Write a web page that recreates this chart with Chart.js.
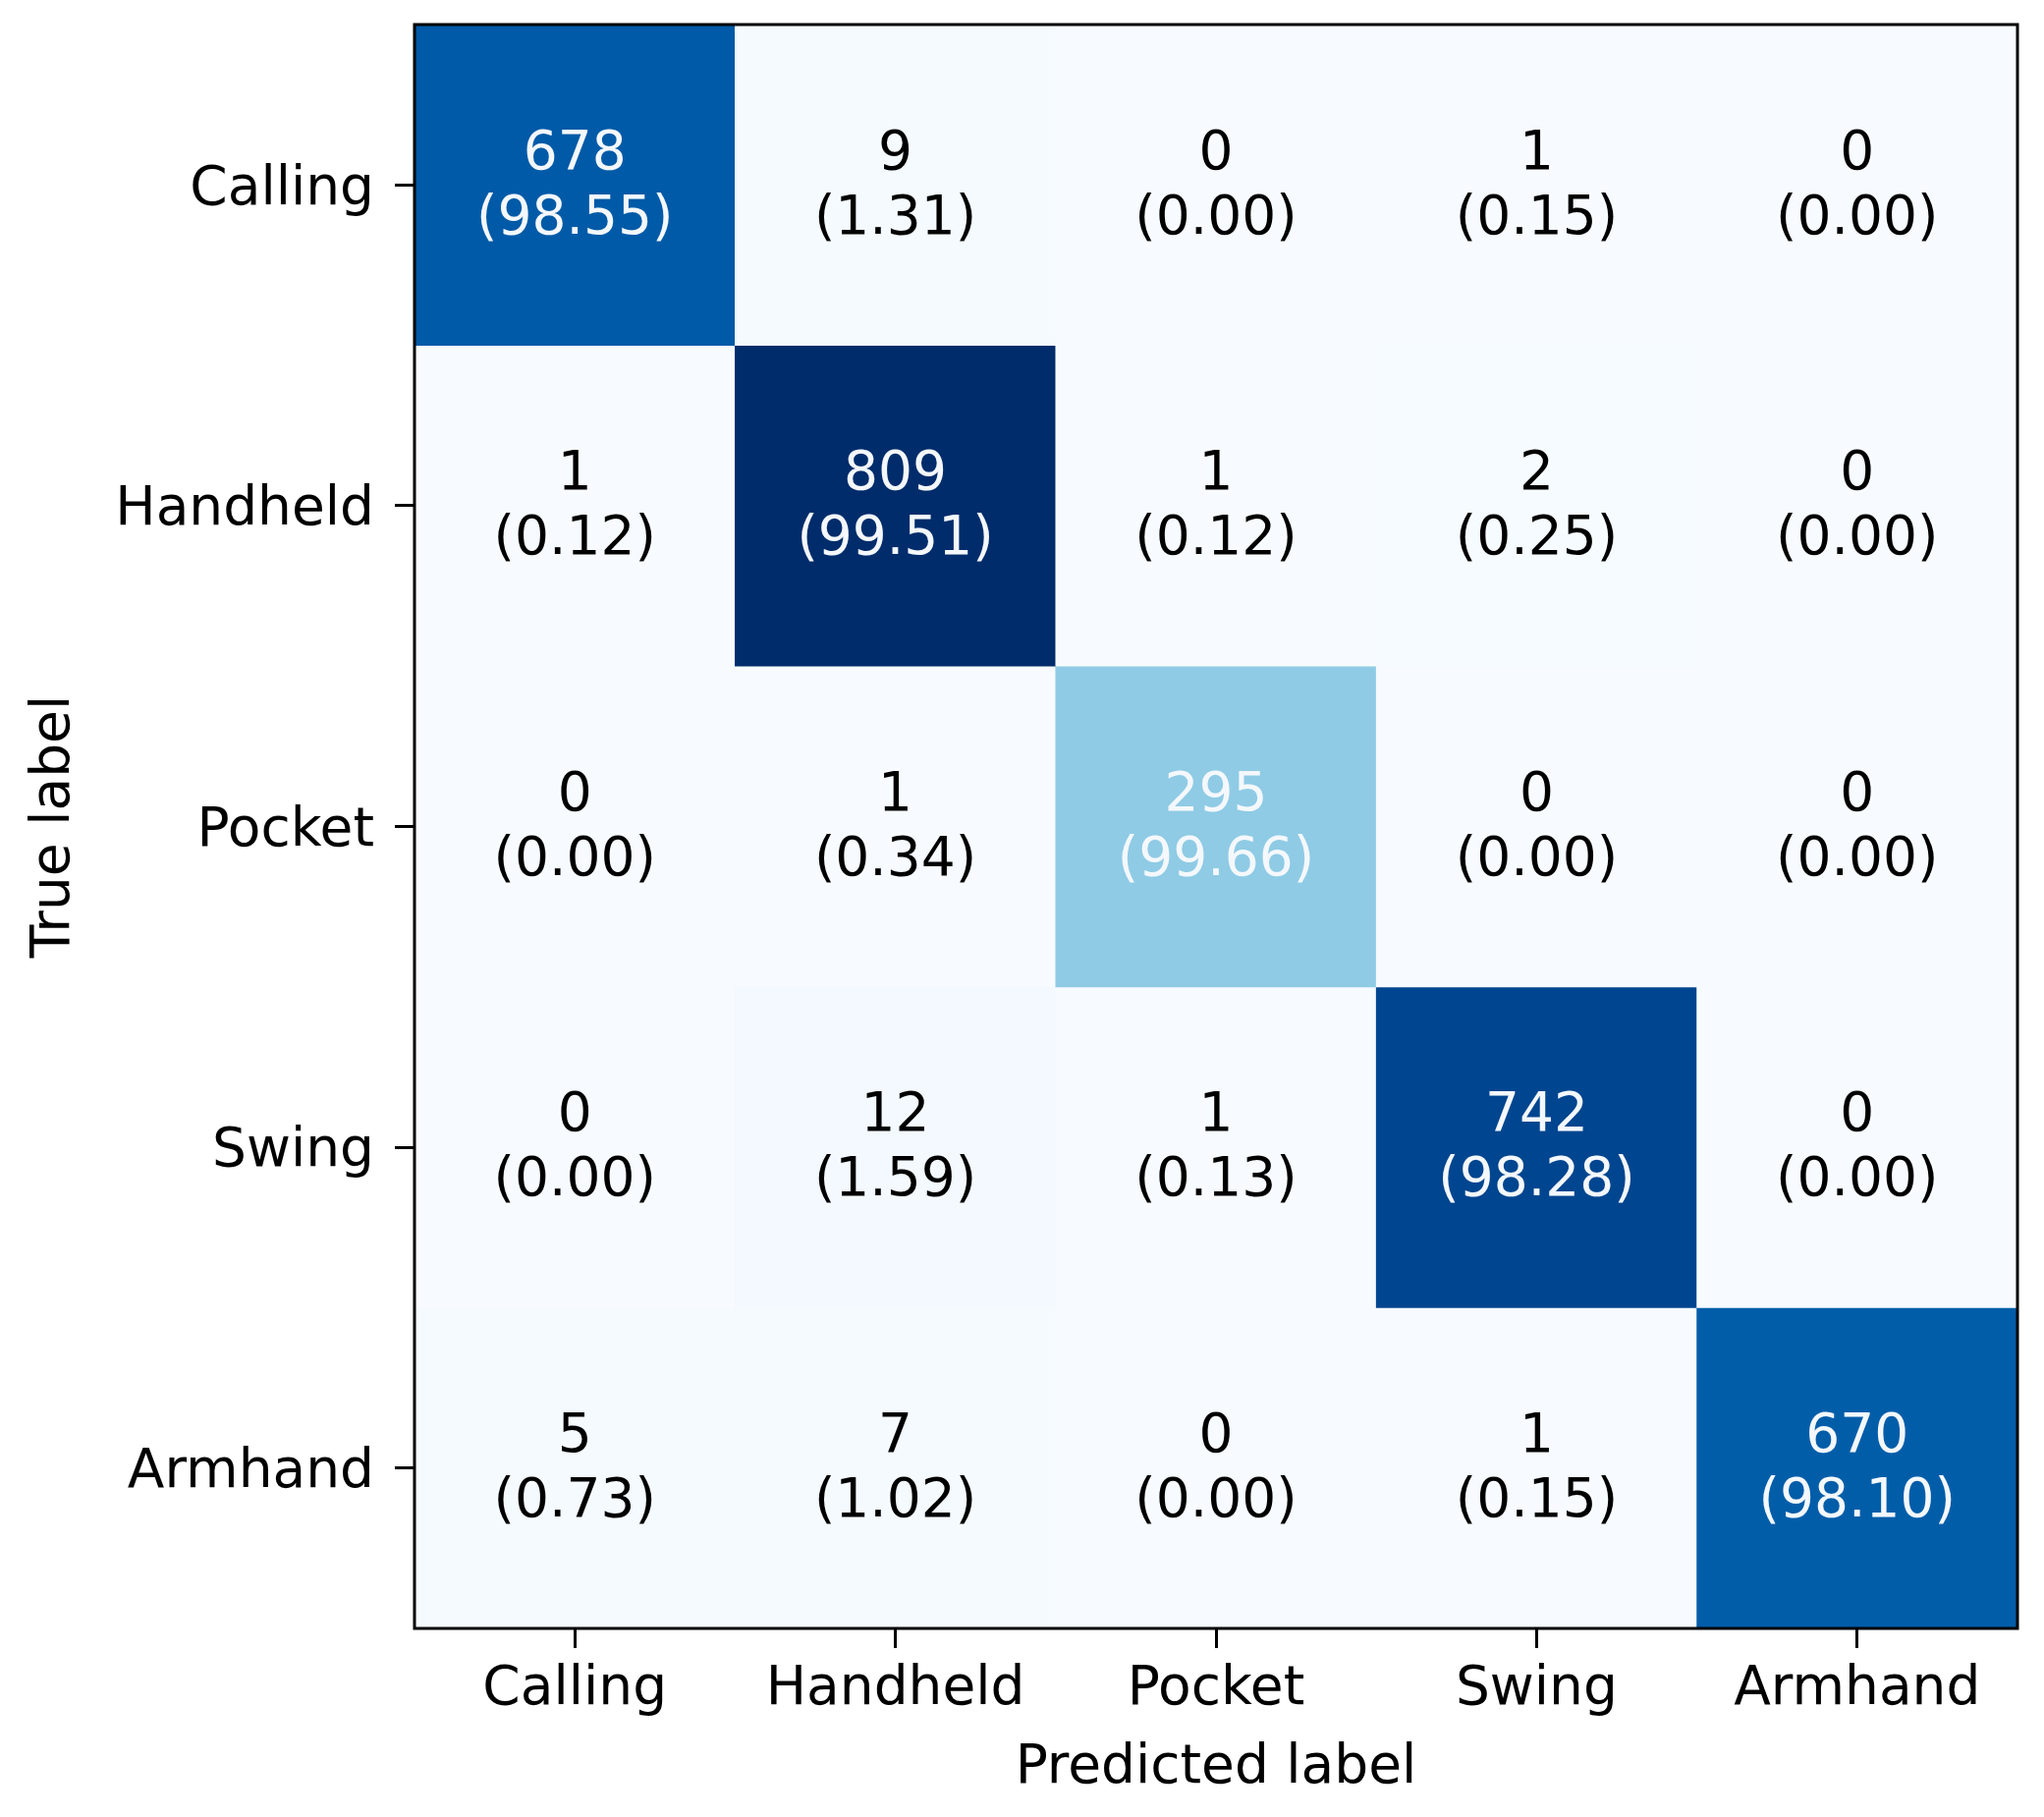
<!DOCTYPE html>
<html>
<head>
<meta charset="utf-8">
<script src="https://cdn.jsdelivr.net/npm/chart.js@4.4.1/dist/chart.umd.min.js"></script>
<style>
  html, body { margin: 0; padding: 0; background: #fff; }
  #wrap { width: 2081px; height: 1850px; }
</style>
</head>
<body>
<div id="wrap"><canvas id="cm"></canvas></div>
<script>
// Confusion matrix: rows = true label, columns = predicted label
const trueLabels = ["Calling", "Handheld", "Pocket", "Swing", "Armhand"];
const predLabels = ["Calling", "Handheld", "Pocket", "Swing", "Armhand"];

const countsCalling  = [678, 9, 0, 1, 0];
const countsHandheld = [1, 809, 1, 2, 0];
const countsPocket   = [0, 1, 295, 0, 0];
const countsSwing    = [0, 12, 1, 742, 0];
const countsArmhand  = [5, 7, 0, 1, 670];

const pctCalling  = [98.55, 1.31, 0.00, 0.15, 0.00];
const pctHandheld = [0.12, 99.51, 0.12, 0.25, 0.00];
const pctPocket   = [0.00, 0.34, 99.66, 0.00, 0.00];
const pctSwing    = [0.00, 1.59, 0.13, 98.28, 0.00];
const pctArmhand  = [0.73, 1.02, 0.00, 0.15, 98.10];

const counts = [countsCalling, countsHandheld, countsPocket, countsSwing, countsArmhand];
const pcts = [pctCalling, pctHandheld, pctPocket, pctSwing, pctArmhand];

const maxCount = Math.max(...counts.flat());
const FONT = "'DejaVu Sans', sans-serif";

// Blues-like colour ramp
const STOPS = [
  [0.0, [247, 251, 255]],
  [0.365, [143, 203, 229]],
  [0.835, [0, 91, 168]],
  [0.917, [0, 69, 143]],
  [1.0, [0, 44, 107]],
];

function blues(v) {
  const t = v / maxCount;
  for (let i = 1; i < STOPS.length; i++) {
    if (t <= STOPS[i][0]) {
      const [t0, c0] = STOPS[i - 1];
      const [t1, c1] = STOPS[i];
      const f = (t - t0) / (t1 - t0);
      const c = c0.map((a, k) => Math.round(a + (c1[k] - a) * f));
      return `rgb(${c[0]},${c[1]},${c[2]})`;
    }
  }
  return "rgb(0,44,107)";
}

// each true-label row is a floating bar band [r, r+1] across the predicted columns
const datasets = counts.map((row, r) => ({
  label: trueLabels[r],
  data: row.map(() => [r, r + 1]),
  counts: row,
  pcts: pcts[r],
  backgroundColor: row.map(blues),
  borderWidth: 0,
  barPercentage: 1,
  categoryPercentage: 1,
  grouped: false,
}));

// write count and percentage in each cell
const cellText = {
  id: "cellText",
  afterDatasetsDraw(chart) {
    const ctx = chart.ctx;
    ctx.save();
    ctx.font = `55px ${FONT}`;
    ctx.textAlign = "center";
    ctx.textBaseline = "middle";
    chart.data.datasets.forEach((ds, r) => {
      chart.getDatasetMeta(r).data.forEach((bar, c) => {
        const { x, y, base } = bar.getProps(["x", "y", "base"], true);
        const cy = (y + base) / 2;
        ctx.fillStyle = ds.counts[c] > maxCount * 0.3 ? "#f4f8fc" : "#000";
        ctx.fillText(String(ds.counts[c]), x, cy - 31);
        ctx.fillText("(" + ds.pcts[c].toFixed(2) + ")", x, cy + 35);
      });
    });
    ctx.restore();
  },
};

// black frame around the plot area
const frame = {
  id: "frame",
  afterDraw(chart) {
    const { left, top, right, bottom } = chart.chartArea;
    const ctx = chart.ctx;
    ctx.save();
    ctx.strokeStyle = "#000";
    ctx.lineWidth = 3;
    ctx.strokeRect(left, top, right - left, bottom - top);
    ctx.restore();
  },
};

const tickGrid = {
  display: true,
  drawOnChartArea: false,
  drawTicks: true,
  tickLength: 20,
  tickWidth: 3,
  color: "#000",
  offset: false,
};

new Chart(document.getElementById("cm"), {
  type: "bar",
  data: { labels: predLabels, datasets },
  options: {
    responsive: true,
    maintainAspectRatio: false,
    devicePixelRatio: 1,
    animation: false,
    layout: { padding: { left: 0, top: 25, right: 27, bottom: 0 } },
    plugins: { legend: { display: false }, tooltip: { enabled: false } },
    scales: {
      x: {
        type: "category",
        offset: true,
        grid: tickGrid,
        border: { display: false },
        ticks: { color: "#000", font: { family: FONT, size: 55 }, padding: 10, maxRotation: 0 },
        title: {
          display: true,
          text: "Predicted label",
          color: "#000",
          font: { family: FONT, size: 55 },
          padding: { top: 0, bottom: 16 },
        },
        afterFit: (s) => {
          s.height = 192;
          s.paddingLeft = 0;
          s.paddingRight = 0;
        },
      },
      y: {
        type: "linear",
        reverse: true,
        min: 0,
        max: 5,
        grid: tickGrid,
        border: { display: false },
        afterBuildTicks: (s) => { s.ticks = trueLabels.map((_, i) => ({ value: i + 0.5 })); },
        ticks: {
          color: "#000",
          font: { family: FONT, size: 55 },
          padding: 21,
          labelOffset: 5,
          callback: (v) => trueLabels[Math.floor(v)],
        },
        title: {
          display: true,
          text: "True label",
          color: "#000",
          font: { family: FONT, size: 55 },
          padding: { top: 23, bottom: 0 },
        },
        afterFit: (s) => {
          s.width = 422;
          s.paddingTop = 0;
          s.paddingBottom = 0;
        },
      },
    },
  },
  plugins: [cellText, frame],
});
</script>
</body>
</html>
